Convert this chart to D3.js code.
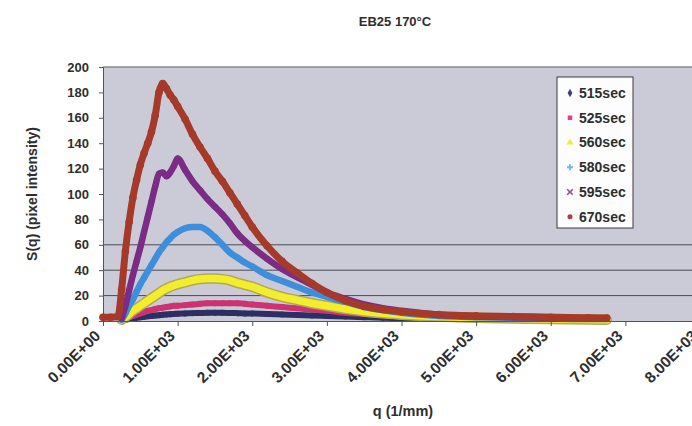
<!DOCTYPE html>
<html>
<head>
<meta charset="utf-8">
<script src="https://cdn.jsdelivr.net/npm/d3@7"></script>
<style>
  html, body { margin: 0; padding: 0; background: #ffffff; }
  svg { display: block; }
  text { font-family: "Liberation Sans", Arial, sans-serif; font-weight: bold; fill: #2e2e2e; }
</style>
</head>
<body>
<svg id="chart" width="692" height="426"></svg>
<script>
// ---- data ----
const chartTitle = "EB25 170°C";
const xTitle = "q (1/mm)";
const yTitle = "S(q) (pixel intensity)";

const qValues = [0,100,200,250,300,350,400,450,500,550,600,650,700,750,800,850,900,950,1000,
  1100,1200,1300,1400,1500,1600,1700,1800,1900,2000,2200,2400,2600,2800,3000,
  3250,3500,3750,4000,4500,5000,5500,6000,6500,6750];

const seriesNames = ["515sec","525sec","560sec","580sec","595sec","670sec"];

const s515 = [null,null,null,0.3,1,1.5,2,2.5,3,3.3,3.7,4,4.3,4.6,5,5.2,5.4,5.6,5.8,
  6,6.2,6.3,6.4,6.4,6.4,6.3,6.2,6,5.9,5.6,5.2,4.8,4.4,4,
  3.5,3,2.6,2.2,1.7,1.3,1,0.8,0.7,0.6];
const s525 = [null,null,null,0.5,2,3,4,5,6,7,8,8.5,9.5,10,10.5,11,11.5,12,12,
  12.5,13,13.5,14,14,14,14,14,13.5,13,12,11,10,9,8,
  6.5,5.5,4.5,3.5,2.5,2,1.5,1.2,1,1];
const s560 = [null,null,null,1,3,5.5,8,10,12,14,16,18,20,22,24,25.5,27,28,29,
  30.5,32,33,33.5,33.5,33,32,30,28.5,27,22.5,19,16.5,14,12,
  9.5,7.5,6,5,3.5,2.5,2,1.5,1.2,1];
const s580 = [null,null,null,1,6,12,17,23,29,34,39,44,49,54,58,62,65,68,70,
  73,74,74,71,66,60,54,50,46,43,36,31.5,27,22.5,19,
  15,11,8.5,6.5,4,3,2.5,2,1.5,1.5];
const s595 = [null,null,null,2,12,24,36,47,58,70,82,94,106,116,117,114,117,122,128,
  119,110,103,96,90,84,77,69,63,58,49,41,34.5,28.5,22.5,
  17.5,13,10,8,5,3.5,3,2.5,2,2];
const s670 = [3,3,3.5,25,55,78,97,111,123,132,140,149,162,180,187,183,178,174,169,
  159,147,137,128,118,110,101,92,83,74,59,47,38,29.5,22.5,
  16,11.5,9,7.3,5,4,3.5,3,2.5,2.3];

const seriesValues = [s515, s525, s560, s580, s595, s670];
const seriesColors = ["#2c2f63","#cc3370","#f2ee2c","#3d8fdc","#7b2c84","#a63a2a"];
const legendColors = ["#3a3f78","#e0408a","#eeee30","#6fb8e8","#8a4a8e","#b04040"];

const yTicks = [0,20,40,60,80,100,120,140,160,180,200];
const gridValues = [20,40,60];
const xTicks = [0,1000,2000,3000,4000,5000,6000,7000,8000];
const xTickLabels = ["0.00E+00","1.00E+03","2.00E+03","3.00E+03","4.00E+03","5.00E+03","6.00E+03","7.00E+03","8.00E+03"];

// ---- drawing ----
const svg = d3.select("#chart");
const x = d3.scaleLinear().domain([0, 8000]).range([103, 700]);
const y = d3.scaleLinear().domain([0, 200]).range([321, 67]);

// plot area
svg.append("rect")
  .attr("x", x(0)).attr("y", y(200))
  .attr("width", x(8000) - x(0)).attr("height", y(0) - y(200))
  .attr("fill", "#cbcbd7");
svg.append("line")
  .attr("x1", x(0)).attr("x2", x(8000)).attr("y1", y(200)).attr("y2", y(200))
  .attr("stroke", "#8a8a92").attr("stroke-width", 1.5);

// gridlines
svg.append("g").selectAll("line").data(gridValues).join("line")
  .attr("x1", x(0)).attr("x2", x(8000))
  .attr("y1", d => y(d)).attr("y2", d => y(d))
  .attr("stroke", "#4a4a52").attr("stroke-width", 1);

// series
const line = d3.line()
  .defined(d => d[1] !== null)
  .x(d => x(d[0])).y(d => y(d[1]))
  .curve(d3.curveMonotoneX);

const widths = [6, 6, 7.5, 6.5, 6.5, 7];
seriesValues.forEach((vals, i) => {
  const pts = qValues.map((q, j) => [q, vals[j]]);
  const g = svg.append("g");
  if (i === 2) {
    g.append("path").attr("d", line(pts)).attr("fill", "none")
      .attr("stroke", "#b0a85a").attr("stroke-width", 10.5)
      .attr("stroke-linejoin", "round").attr("stroke-linecap", "round");
  }
  g.append("path").attr("d", line(pts)).attr("fill", "none")
    .attr("stroke", seriesColors[i]).attr("stroke-width", widths[i])
    .attr("stroke-linejoin", "round").attr("stroke-linecap", "round");
  g.selectAll("circle").data(pts.filter(d => d[1] !== null)).join("circle")
    .attr("cx", d => x(d[0])).attr("cy", d => y(d[1]))
    .attr("r", i === 5 ? 3.8 : 3)
    .attr("fill", seriesColors[i]);
});

// axes
const yAxis = d3.axisLeft(y).tickValues(yTicks).tickSize(4).tickPadding(10);
const gy = svg.append("g").attr("transform", `translate(${x(0)},0)`).call(yAxis);
gy.select(".domain").attr("stroke", "#555");
gy.selectAll(".tick line").attr("stroke", "#555");
gy.selectAll(".tick text").style("font-size", "13px").attr("fill", "#2e2e2e")
  .style("font-family", "'Liberation Sans', Arial, sans-serif").style("font-weight", "bold");

const xAxis = d3.axisBottom(x).tickValues(xTicks).tickSize(5)
  .tickFormat((d, i) => xTickLabels[i]);
const gx = svg.append("g").attr("transform", `translate(0,${y(0)})`).call(xAxis);
gx.select(".domain").attr("stroke", "#555");
gx.selectAll(".tick line").attr("stroke", "#555");
gx.selectAll(".tick text")
  .style("font-size", "15.5px").attr("fill", "#2e2e2e")
  .style("font-family", "'Liberation Sans', Arial, sans-serif").style("font-weight", "bold")
  .attr("text-anchor", "end")
  .attr("dy", "0.35em").attr("y", 0)
  .attr("transform", "translate(-6,12) rotate(-45)");

// titles
svg.append("text").attr("x", 395).attr("y", 26).attr("text-anchor", "middle")
  .style("font-size", "13px").text(chartTitle);
svg.append("text").attr("x", 403).attr("y", 416).attr("text-anchor", "middle")
  .style("font-size", "14.5px").text(xTitle);
svg.append("text").attr("transform", "translate(37,194) rotate(-90)")
  .attr("text-anchor", "middle").style("font-size", "14px").text(yTitle);

// legend
const legend = svg.append("g");
legend.append("rect").attr("x", 557).attr("y", 77).attr("width", 76).attr("height", 151)
  .attr("fill", "#fdfdfd").attr("stroke", "#3a3a3a").attr("stroke-width", 1);
const symbols = [d3.symbolDiamond, d3.symbolSquare, d3.symbolTriangle, d3.symbolCross, d3.symbolX, d3.symbolCircle];
const legendY = d3.scalePoint().domain(seriesNames).range([93, 216.7]);
seriesNames.forEach((name, i) => {
  const cy = legendY(name);
  legend.append("path")
    .attr("d", d3.symbol().type(symbols[i]).size(i === 4 ? 22 : 20)())
    .attr("transform", `translate(570,${cy})`)
    .attr("fill", i === 4 ? "none" : legendColors[i])
    .attr("stroke", i === 4 ? legendColors[i] : "none").attr("stroke-width", 1.5);
  legend.append("text").attr("x", 579).attr("y", cy + 5)
    .style("font-size", "14px").text(name);
});
</script>
</body>
</html>
